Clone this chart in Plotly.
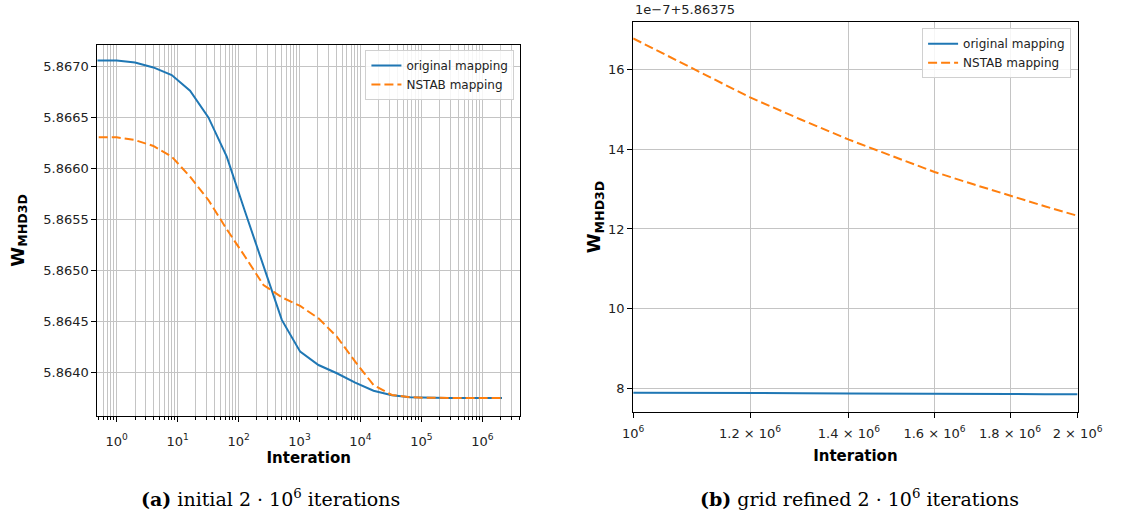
import plotly.graph_objects as go

# ---------------- data: panel (a) initial 2e6 iterations ----------------
iterations = [0, 1, 2, 4, 8, 16, 32, 64, 128, 256, 512, 1024, 2048, 4096, 8192,
              16384, 32768, 65536, 131072, 262144, 524288, 1048576, 2097152]
w_original = [5.86706, 5.86706, 5.867042, 5.866993, 5.866918, 5.866765, 5.866503,
              5.866118, 5.865578, 5.865053, 5.864517, 5.864206, 5.864075, 5.863994,
              5.863902, 5.863823, 5.863778, 5.863759, 5.863752, 5.863751, 5.863751,
              5.863751, 5.863751]
w_nstab = [5.866308, 5.866308, 5.866281, 5.866223, 5.866118, 5.865922, 5.865693,
           5.865406, 5.865137, 5.864860, 5.864739, 5.864654, 5.864533, 5.864353,
           5.864108, 5.863879, 5.863781, 5.863759, 5.863753, 5.863752, 5.863752,
           5.863752, 5.863752]
left_xtick_vals = [1, 10, 100, 1000, 10000, 100000, 1000000]
left_xtick_text = ["10<sup>0</sup>", "10<sup>1</sup>", "10<sup>2</sup>", "10<sup>3</sup>",
                   "10<sup>4</sup>", "10<sup>5</sup>", "10<sup>6</sup>"]

# ---------------- data: panel (b) grid refined 2e6 iterations ----------------
iter_refined = [1.0e6, 1.1e6, 1.2e6, 1.3e6, 1.4e6, 1.5e6, 1.6e6, 1.7e6, 1.8e6, 1.9e6, 2.0e6]
# values in units of 1e-7 above the offset 5.86375
orig_refined = [7.89, 7.89, 7.88, 7.88, 7.87, 7.87, 7.86, 7.86, 7.86, 7.85, 7.85]
nstab_refined = [16.78, 16.00, 15.30, 14.74, 14.24, 13.82, 13.43, 13.12, 12.83, 12.57, 12.33]
offset_label = "1e\u22127+5.86375"
right_xtick_vals = [1.0e6, 1.2e6, 1.4e6, 1.6e6, 1.8e6, 2.0e6]
right_xtick_text = ["10<sup>6</sup>", "1.2 \u00d7 10<sup>6</sup>", "1.4 \u00d7 10<sup>6</sup>",
                    "1.6 \u00d7 10<sup>6</sup>", "1.8 \u00d7 10<sup>6</sup>", "2 \u00d7 10<sup>6</sup>"]
right_ytick_vals = [8, 10, 12, 14, 16]

series_names = ["original mapping", "NSTAB mapping"]
BLUE = "#1f77b4"
ORANGE = "#ff7f0e"
GRID = "#c4c4c4"
W, H = 1129, 517

# iteration 0 cannot sit on a log axis: clip it far to the left (as matplotlib does)
x_left = [i if i > 0 else 0.01 for i in iterations]

fig = go.Figure()
fig.add_trace(go.Scatter(x=x_left, y=w_original, mode="lines", name=series_names[0],
                         line=dict(color=BLUE, width=2), xaxis="x", yaxis="y", legend="legend"))
fig.add_trace(go.Scatter(x=x_left, y=w_nstab, mode="lines", name=series_names[1],
                         line=dict(color=ORANGE, width=2, dash="9px,4px"),
                         xaxis="x", yaxis="y", legend="legend"))
fig.add_trace(go.Scatter(x=iter_refined, y=orig_refined, mode="lines", name=series_names[0],
                         line=dict(color=BLUE, width=2), xaxis="x2", yaxis="y2", legend="legend2"))
fig.add_trace(go.Scatter(x=iter_refined, y=nstab_refined, mode="lines", name=series_names[1],
                         line=dict(color=ORANGE, width=2, dash="9px,4px"),
                         xaxis="x2", yaxis="y2", legend="legend2"))

axis_common = dict(showline=True, linecolor="black", linewidth=1, mirror=True,
                   ticks="outside", ticklen=5, tickcolor="black", showgrid=True,
                   gridcolor=GRID, gridwidth=1, zeroline=False)
title_font = dict(family="DejaVu Sans", size=15, color="black")
ytitle_font = dict(family="DejaVu Sans", size=18, color="black")
ytitle = "<b>W<sub>MHD3D</sub></b>"

fig.update_layout(
    width=W, height=H,
    margin=dict(l=0, r=0, t=0, b=0),
    paper_bgcolor="white", plot_bgcolor="white",
    font=dict(family="DejaVu Sans", size=13, color="#222222"),
    xaxis=dict(**axis_common, domain=[89.3 / W, 525.7 / W], anchor="y", type="log",
               range=[-0.315, 6.616], tickmode="array", tickvals=left_xtick_vals,
               ticktext=left_xtick_text, ticklabelstandoff=8,
               minor=dict(dtick="D1", ticks="outside", ticklen=3, tickcolor="black",
                          showgrid=True, gridcolor=GRID, gridwidth=1),
               title=dict(text="<b>Interation</b>", font=title_font, standoff=4)),
    yaxis=dict(**axis_common, domain=[1 - 416 / H, 1 - 44.7 / H], anchor="x",
               range=[5.863575, 5.867216], tick0=5.864, dtick=0.0005, tickformat=".4f",
               title=dict(text=ytitle, font=ytitle_font, standoff=14)),
    xaxis2=dict(**axis_common, domain=[642.7 / W, 1101.7 / W], anchor="y2", type="log",
                range=[6, 6.30103], tickmode="array", tickvals=right_xtick_vals,
                ticktext=right_xtick_text, ticklabelstandoff=4,
                title=dict(text="<b>Interation</b>", font=title_font, standoff=10)),
    yaxis2=dict(**axis_common, domain=[1 - 412.3 / H, 1 - 21.7 / H], anchor="x2",
                range=[7.4, 17.2], tickmode="array", tickvals=right_ytick_vals,
                title=dict(text=ytitle, font=ytitle_font, standoff=2)),
    legend=dict(x=520 / W, y=1 - 50 / H, xanchor="right", yanchor="top",
                bgcolor="rgba(255,255,255,0.85)", bordercolor="#d0d0d0", borderwidth=1,
                font=dict(size=12, color="#222222"), tracegroupgap=0),
    legend2=dict(x=1095 / W, y=1 - 28.3 / H, xanchor="right", yanchor="top",
                 bgcolor="rgba(255,255,255,0.85)", bordercolor="#d0d0d0", borderwidth=1,
                 font=dict(size=12, color="#222222"), tracegroupgap=0),
    showlegend=True,
)

fig.add_annotation(text=offset_label, xref="paper", yref="paper", x=642.7 / W, y=1 - 10 / H,
                   xanchor="left", yanchor="middle", showarrow=False,
                   font=dict(family="DejaVu Sans", size=13, color="#222222"))
caption_font = dict(family="DejaVu Serif", size=19, color="black")
fig.add_annotation(text="<b>(a)</b> initial 2 \u00b7 10<sup>6</sup> iterations", xref="paper",
                   yref="paper", x=268 / W, y=1 - 498 / H, xanchor="center", yanchor="middle",
                   showarrow=False, font=caption_font)
fig.add_annotation(text="<b>(b)</b> grid refined 2 \u00b7 10<sup>6</sup> iterations", xref="paper",
                   yref="paper", x=876 / W, y=1 - 498 / H, xanchor="center", yanchor="middle",
                   showarrow=False, font=caption_font)

fig.write_html("out.html")
